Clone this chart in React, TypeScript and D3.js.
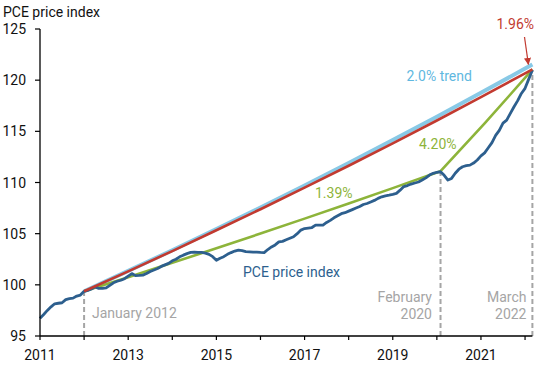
import React from "react";
import * as d3 from "d3";

// PCE price index, monthly, Jan 2011 – Mar 2022 (2012 = 100)
const pceStartYear = 2011;
const pceValues = [
  // 2011
  96.72, 97.1, 97.5, 97.85, 98.15, 98.2, 98.25, 98.55, 98.65, 98.7, 98.9, 99.0,
  // 2012
  99.37, 99.45, 99.6, 99.8, 99.65, 99.65, 99.7, 99.95, 100.2, 100.35, 100.45, 100.6,
  // 2013
  100.85, 101.1, 100.9, 100.92, 100.95, 101.1, 101.3, 101.45, 101.6, 101.8, 101.95, 102.1,
  // 2014
  102.35, 102.5, 102.74, 102.9, 103.05, 103.17, 103.2, 103.17, 103.17, 103.1, 102.98, 102.75,
  // 2015
  102.4, 102.6, 102.75, 102.98, 103.15, 103.3, 103.4, 103.35, 103.25, 103.23, 103.2, 103.2,
  // 2016
  103.17, 103.15, 103.45, 103.7, 103.9, 104.2, 104.25, 104.4, 104.55, 104.7, 105.0, 105.35,
  // 2017
  105.5, 105.55, 105.6, 105.84, 105.84, 105.84, 106.1, 106.3, 106.55, 106.75, 106.95, 107.05,
  // 2018
  107.2, 107.35, 107.5, 107.65, 107.85, 107.95, 108.1, 108.25, 108.45, 108.6, 108.7, 108.77,
  // 2019
  108.85, 108.94, 109.25, 109.6, 109.7, 109.85, 109.95, 110.05, 110.24, 110.45, 110.73, 110.9,
  // 2020
  111.0, 111.05, 110.7, 110.24, 110.4, 110.9, 111.3, 111.54, 111.65, 111.7, 111.9, 112.2,
  // 2021
  112.6, 112.9, 113.4, 113.9, 114.6, 115.1, 115.8, 116.1, 116.75, 117.4, 118.0, 118.7,
  // 2022
  119.2, 120.1, 121.0,
];

// 2.0% trend from January 2012
const trend2Dates = [2012, 2013, 2014, 2015, 2016, 2017, 2018, 2019, 2020, 2021, 2022, 2022 + 2 / 12];
const trend2Values = [99.37, 101.36, 103.38, 105.45, 107.56, 109.71, 111.91, 114.15, 116.43, 118.76, 121.13, 121.53];

// Actual average growth (1.96%) Jan 2012 – Mar 2022
const trend196Dates = trend2Dates;
const trend196Values = [99.37, 101.32, 103.3, 105.33, 107.39, 109.5, 111.64, 113.83, 116.06, 118.34, 120.66, 121.05];

// 1.39% (Jan 2012 – Feb 2020) then 4.20% (Feb 2020 – Mar 2022)
const pieceDates = [2012, 2013, 2014, 2015, 2016, 2017, 2018, 2019, 2020, 2020 + 1 / 12, 2021 + 1 / 12, 2022 + 1 / 12, 2022 + 2 / 12];
const pieceValues = [99.37, 100.75, 102.15, 103.57, 105.01, 106.47, 107.95, 109.45, 110.97, 111.1, 115.77, 120.63, 121.05];

// Marker dates
const markerDates = [2012, 2020 + 1 / 12, 2022 + 2 / 12];
const markerValues = [99.37, 111.05, 121.0];

const yTicks = [95, 100, 105, 110, 115, 120, 125];
const xTicks = [2011, 2012, 2013, 2014, 2015, 2016, 2017, 2018, 2019, 2020, 2021, 2022];
const xLabelYears = [2011, 2013, 2015, 2017, 2019, 2021];

const W = 550;
const H = 365;
const FONT = "Roboto, 'Noto Sans', sans-serif";

const BLUE = "#2d5f8e";
const RED = "#c23a30";
const LIGHT = "#88c9e6";
const GREEN = "#8db43a";
const GRAY = "#a5a5a5";

export default function App() {
  const x = d3.scaleLinear().domain([2011, 2022 + 2 / 12]).range([40, 532.4]);
  const y = d3.scaleLinear().domain([95, 125]).range([336, 29]);

  const pcePts: [number, number][] = pceValues.map((v, i) => [pceStartYear + i / 12, v]);
  const line = d3
    .line<[number, number]>()
    .x((d) => x(d[0]))
    .y((d) => y(d[1]));

  const zip = (a: number[], b: number[]) => a.map((d, i) => [d, b[i]] as [number, number]);

  const arrowStart = { x: 524.5, y: 37 };
  const arrowEnd = { x: x(2022 + 2 / 12) - 4, y: y(121.35) - 2 };

  return (
    <svg
      width={W}
      height={H}
      viewBox={`0 0 ${W} ${H}`}
      style={{ position: "absolute", left: 0, top: 0, background: "#fff", fontFamily: FONT }}
    >
      <defs>
        <marker id="arr" viewBox="0 0 10 10" refX="9" refY="5" markerWidth="6" markerHeight="6" orient="auto">
          <path d="M0,0 L10,5 L0,10 z" fill={RED} />
        </marker>
      </defs>

      {/* dashed markers */}
      {markerDates.map((d, i) => (
        <line
          key={i}
          x1={x(d)}
          x2={x(d)}
          y1={y(95)}
          y2={y(markerValues[i])}
          stroke={GRAY}
          strokeWidth={2}
          strokeDasharray="5,3"
        />
      ))}

      {/* series */}
      <path d={line(zip(trend2Dates, trend2Values)) || ""} fill="none" stroke={LIGHT} strokeWidth={4} />
      <path d={line(zip(pieceDates, pieceValues)) || ""} fill="none" stroke={GREEN} strokeWidth={2.6} />
      <path d={line(pcePts) || ""} fill="none" stroke={BLUE} strokeWidth={2.8} strokeLinejoin="round" />
      <path d={line(zip(trend196Dates, trend196Values)) || ""} fill="none" stroke={RED} strokeWidth={2.6} />

      {/* axes */}
      <line x1={40} x2={40} y1={y(125)} y2={y(95)} stroke="#000" strokeWidth={1.3} />
      <line x1={40} x2={x(2022 + 2 / 12)} y1={y(95)} y2={y(95)} stroke="#000" strokeWidth={1.3} />
      {yTicks.map((t) => (
        <g key={t}>
          <line x1={35} x2={40} y1={y(t)} y2={y(t)} stroke="#000" strokeWidth={1.2} />
          <text x={26} y={y(t) + 5} textAnchor="end" fontSize={14} fill="#111">
            {t}
          </text>
        </g>
      ))}
      {xTicks.map((t) => (
        <line key={t} x1={x(t)} x2={x(t)} y1={y(95)} y2={y(95) + 4} stroke="#000" strokeWidth={1.2} />
      ))}
      {xLabelYears.map((t) => (
        <text key={t} x={x(t)} y={360} textAnchor="middle" fontSize={14} fill="#111">
          {t}
        </text>
      ))}

      {/* axis title */}
      <text x={3} y={17} fontSize={14} fill="#111">
        PCE price index
      </text>

      {/* annotations */}
      <text x={92} y={318} fontSize={14} fill={GRAY}>
        January 2012
      </text>
      <text x={432} y={302} fontSize={14} fill={GRAY} textAnchor="end">
        February
      </text>
      <text x={432} y={318.5} fontSize={14} fill={GRAY} textAnchor="end">
        2020
      </text>
      <text x={526.5} y={302} fontSize={14} fill={GRAY} textAnchor="end">
        March
      </text>
      <text x={526.5} y={318.5} fontSize={14} fill={GRAY} textAnchor="end">
        2022
      </text>

      <text x={243} y={277} fontSize={14} fill={BLUE}>
        PCE price index
      </text>
      <text x={315} y={198} fontSize={14} fill={GREEN}>
        1.39%
      </text>
      <text x={419} y={149} fontSize={14} fill={GREEN}>
        4.20%
      </text>
      <text x={406.5} y={81} fontSize={14} fill="#5fb8e0">
        2.0% trend
      </text>
      <text x={496.5} y={28.5} fontSize={14} fill={RED}>
        1.96%
      </text>
      <line
        x1={arrowStart.x}
        y1={arrowStart.y}
        x2={arrowEnd.x}
        y2={arrowEnd.y}
        stroke={RED}
        strokeWidth={1.2}
        markerEnd="url(#arr)"
      />
    </svg>
  );
}
